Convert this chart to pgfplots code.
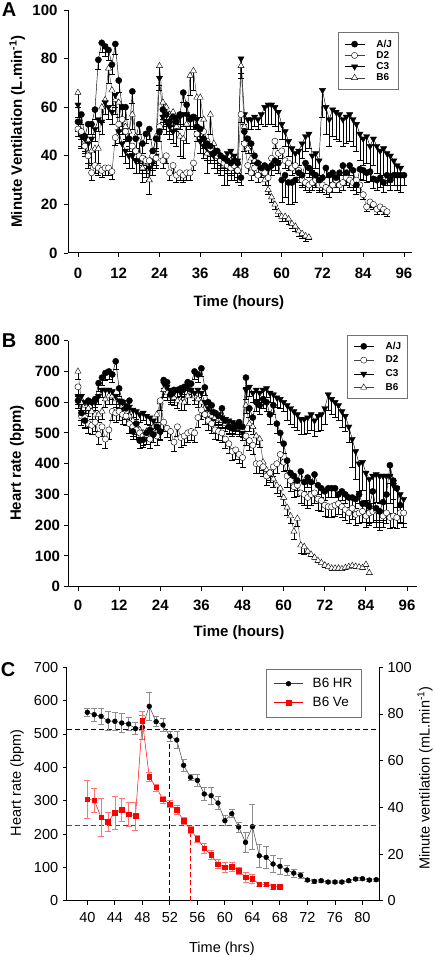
\documentclass[border=0pt]{standalone}
\usepackage{pgfplots}
\pgfplotsset{compat=1.18}
\usepackage{pgfplotstable}
\usepackage{fontspec}
\setmainfont{Liberation Sans}

\pgfplotstableread{
t aj aje d2 d2e c3 c3e b6 b6e
0 54 4 51 3 61 5 66 6
1 57 4 50 3 48 5 50 6
2 48 4 44 3 47 5 46 6
3 53 4 40 3 45 5 41 6
4 53 4 33 3 47 5 42 6
5 59 4 36 3 51 5 43 6
6 79.5 4 35 3 55 5 43 6
7 86.5 4 34 3 54 5 60 6
8 85 4 35 3 62 5 63 6
9 83.5 4 35 3 60 5 76 6
10 77.5 4 33.5 3 58 5 67 6
11 86 4 47.5 3 65 5 63 6
12 71 5 53 3 50 5 62 6
13 60 5 55 3 45 5 55 6
14 60 5 50 3 42 5 52 6
15 47 5 47 3 40 5 50 6
16 66.5 5 44 3 40 5 57 6
17 47 4 42 3 38 5 48 6
18 53 4 40 3 38 5 46 6
19 45 4 39 3 39 5 35 6
20 49 4 38 3 38 5 37 6
21 51 4 38 3 35 5 30 6
22 42 4 40 3 37 5 40 6
23 47 4 39 3 40 5 48 6
24 50 4 52 3 72 5 77 8
25 59 4 38 3 56 5 62 8
26 57 4 40 3 54 5 60 8
27 54 4 33 3 52 5 57 8
28 56 4 36 3 50 5 58 8
29 54 4 32 3 56 5 52 8
30 57 4 33 3 56 5 48 8
31 66 4 32 3 57 5 47 8
32 61 4 33 3 57 5 53 8
33 55 4 33 3 56 5 73 8
34 56 4 37 3 56 5 75 8
35 52 4 49 3 55 5 64 8
36 51 4 51 3 46 5 64 8
37 47 4 50 3 44 5 55 8
38 45 4 46 3 43 5 41 8
39 44 4 43 3 42 5 57 8
40 41 4 41 3 40 5 45 8
41 42 4 40 3 40 5 41 8
42 40 4 38 3 39 5 40 8
43 39 4 37 3 39 5 36 8
44 38 4 36 3 41 5 36 8
45 37 4 35 3 42 5 38 8
46 38 4 36 3 40 5 38 8
47 37 4 34 3 38 5 37 8
48 31 3 57 3 80 6 77 5
49 50 4 45 3 57 4 52 2
50 47 4 36 3 55 4 43 2
51 45 4 33 3 55 4 39 2
52 40 4 35 3 56 4 38 2
53 37 4 32 3 55 4 37 2
54 35 4 34 3 57 4 36 2
55 36 4 33 3 60 8 30 2
56 35 4 31 3 61 8 26 2
57 36 4 39 3 61 8 23 2
58 38 4 46 3 60 8 20 2
59 37 4 41 3 58 8 17 2
60 30 9 42 3 53 6 15 2
61 32 9 38 3 50 6 15 2
62 29 9 37 3 46 6 14 2
63 29 9 35 3 43 6 12 2
64 30 9 36 3 41 6 11 2
65 33 4 34 3 42 6 9 2
66 32 4 30 3 45 6 8 2
67 37 4 29 3 48 6 7 2
68 35 4 28 3 49 6 6.5 1
69 33 4 29 3 40 6 nan 0
70 32 4 30 3 41 6 nan 0
71 30 4 28 3 38 6 nan 0
72 31 4 28 3 67 11 nan 0
73 35 4 27 3 60 11 nan 0
74 32 4 26 3 55 11 nan 0
75 33 4 28 3 59 11 nan 0
76 31 4 30 3 58 11 nan 0
77 33 4 28 3 57 11 nan 0
78 36 4 29 3 55 11 nan 0
79 33 4 31 3 56 11 nan 0
80 36 4 30 3 57 11 nan 0
81 34 4 29 3 55 11 nan 0
82 28 4 30 3 53 11 nan 0
83 34.5 4 28 3 49 11 nan 0
84 34 4 24 2 47 11 nan 0
85 33 4 19 2 48 11 nan 0
86 33.5 4 21 2 44 11 nan 0
87 30.5 4 20 2 47 11 nan 0
88 30 4 18 2 44 11 nan 0
89 31 4 19 2 42 11 nan 0
90 29 4 18 2 43 11 nan 0
91 32 4 17 2 41 11 nan 0
92 30 4 nan 0 40 10 nan 0
93 32 4 nan 0 38 10 nan 0
94 32 4 nan 0 36 10 nan 0
95 32 4 nan 0 35 10 nan 0
96 32 4 nan 0 nan 0 nan 0
}\tabA

\pgfplotstableread{
t aj aje d2 d2e c3 c3e b6 b6e
0 605 25 650 30 620 25 700 25
1 565 25 555 30 620 25 600 25
2 540 25 550 30 600 25 590 25
3 605 25 530 30 600 25 580 25
4 600 25 525 30 600 25 570 25
5 610 25 535 30 600 25 560 25
6 662 25 495 30 620 25 560 25
7 680 25 520 30 640 25 570 25
8 695 25 480 30 640 25 610 25
9 700 25 510 30 640 25 620 25
10 690 25 570 30 635 25 620 25
11 733 25 565 30 620 25 610 25
12 645 25 570 30 605 25 600 25
13 600 25 560 30 600 25 590 25
14 580 25 555 30 590 25 570 25
15 605 25 530 30 585 25 555 25
16 505 25 520 30 575 25 540 25
17 530 25 510 30 570 25 520 25
18 475 25 500 30 560 25 510 25
19 478 25 490 30 565 25 500 25
20 500 25 495 30 555 25 505 25
21 510 25 480 30 550 25 510 25
22 495 25 500 30 540 25 520 25
23 520 25 490 30 520 25 560 25
24 505 25 605 30 500 25 600 25
25 672 25 535 30 660 25 640 25
26 665 25 515 30 650 25 630 25
27 625 25 505 30 640 25 620 25
28 640 25 470 30 630 25 615 25
29 640 25 520 30 640 25 605 25
30 645 25 485 30 630 25 600 25
31 650 25 490 30 640 25 600 25
32 665 25 500 30 650 25 620 25
33 660 25 505 30 640 25 640 25
34 700 25 500 30 630 25 620 25
35 690 25 550 30 640 25 610 25
36 710 25 575 30 630 25 600 25
37 648 25 560 30 600 25 580 25
38 600 25 540 30 580 25 560 25
39 590 25 530 30 570 25 555 25
40 565 25 510 30 565 25 550 25
41 555 25 505 30 560 25 545 25
42 580 25 500 30 550 25 540 25
43 540 25 480 30 545 25 530 25
44 520 25 465 30 540 25 525 25
45 515 25 440 30 535 25 525 25
46 520 25 445 30 530 25 520 25
47 535 25 430 30 520 25 515 25
48 520 25 420 30 500 25 510 25
49 680 30 490 30 640 30 590 25
50 580 30 475 30 650 30 530 25
51 550 30 460 30 630 30 520 25
52 600 30 400 30 640 30 490 25
53 590 30 400 30 630 30 480 25
54 610 30 390 30 640 30 405 25
55 600 30 360 30 645 30 380 25
56 560 30 370 30 630 30 370 25
57 590 30 390 30 625 30 350 25
58 530 30 400 30 615 30 330 25
59 500 30 430 30 610 30 320 25
60 465 30 405 30 600 30 290 25
61 410 30 360 35 590 50 258 25
62 370 30 345 35 580 50 230 25
63 360 30 325 35 570 50 180 25
64 345 30 330 35 560 50 222 25
65 375 30 305 35 545 50 135 25
66 340 30 300 35 545 50 130 25
67 355 30 290 35 550 50 115 5
68 340 30 300 35 560 50 105 5
69 365 30 305 35 540 50 95 5
70 330 30 285 35 555 50 85 5
71 320 30 280 35 560 50 78 5
72 310 30 265 35 580 50 70 5
73 320 30 260 35 625 50 65 5
74 320 30 260 35 610 50 60 5
75 320 30 265 35 600 50 60 5
76 300 30 270 35 590 50 60 5
77 310 30 260 35 570 50 58 5
78 300 30 250 35 555 50 62 5
79 290 30 240 35 520 50 65 5
80 290 30 255 35 480 90 68 5
81 285 30 235 35 440 90 66 5
82 300 30 240 35 400 90 64 5
83 270 30 245 35 405 90 62 5
84 270 60 230 35 370 90 72 5
85 260 60 240 35 350 90 45 5
86 310 60 245 35 360 90 nan 0
87 255 60 250 35 365 90 nan 0
88 245 60 245 35 360 90 nan 0
89 275 60 230 35 360 90 nan 0
90 300 60 240 35 360 90 nan 0
91 395 60 225 35 360 90 nan 0
92 345 60 230 35 330 90 nan 0
93 320 60 225 35 320 90 nan 0
94 265 60 240 35 300 90 nan 0
95 nan 0 240 35 285 90 nan 0
}\tabB

\pgfplotstableread{
t hr hre ve vee
40 565 12 43.4 8
41 558 20 43.1 5
42 553 25 35.7 8
43 539 28 33.9 4
44 538 28 37.7 7
45 533 28 39 5
46 530 20 37.1 5
47 516 18 36.3 6
48 520 35 77 4
49 583 42 53.1 2
50 537 15 48.6 1.5
51 527 20 43.4 1.5
52 493 15 41.4 1.5
53 482 25 38.9 2
54 406 18 34.3 1.5
55 370 10 30.3 1.5
56 361 18 26.6 1.5
57 320 20 22.4 2
58 315 25 19.6 2
59 293 20 15.7 2
60 240 15 14.3 2
61 261 12 14.6 2
62 221 15 12.9 1.5
63 175 30 10 2
64 222 68 9.4 2
65 135 35 7.1 1
66 130 33 7 1
67 110 25 6 1
68 103 25 6 1
69 92 15 nan 0
70 83 12 nan 0
71 76 8 nan 0
72 62 5 nan 0
73 58 5 nan 0
74 60 5 nan 0
75 56 5 nan 0
76 56 5 nan 0
77 56 5 nan 0
78 60 5 nan 0
79 65 5 nan 0
80 66 5 nan 0
81 62 5 nan 0
82 63 5 nan 0
}\tabC

\pgfplotsset{
  base/.style={
    scale only axis, anchor=south west,
    axis x line*=bottom, axis y line*=left,
    tick align=outside, major tick length=4pt,
    axis line style={line width=1pt, black},
    tick style={line width=0.9pt, black},
    /pgf/number format/assume math mode=true,
    clip=false,
  },
  boldaxis/.style={
    ticklabel style={font=\bfseries\fontsize{15}{15}\selectfont},
    label style={font=\bfseries\fontsize{15}{17}\selectfont},
    legend style={draw=black!55, font=\bfseries\fontsize{10}{10}\selectfont,
      anchor=north west, inner xsep=6pt, line width=0.6pt,
      nodes={inner sep=0.6pt}},
    legend cell align=left, reverse legend,
    legend image code/.code={\draw[mark repeat=2, mark phase=2, #1] plot coordinates {(0pt,0pt)(10pt,0pt)(20pt,0pt)};\path (31pt,0pt);},
  },
  ebar/.style={error bars/.cd, y dir=minus, y explicit,
    error bar style={line width=0.4pt, black},
    error mark options={rotate=90, mark size=3pt, line width=0.4pt, black}},
  sAJ/.style={black, line width=0.45pt, mark=*, mark size=3.1pt, mark options={fill=black, line width=0.4pt}},
  sD2/.style={black!75, line width=0.45pt, mark=*, mark size=3.1pt, mark options={fill=white, draw=black, line width=0.4pt}},
  sC3/.style={black, line width=0.45pt, mark=triangle*, mark size=3.6pt, mark options={rotate=180, fill=black, line width=0.4pt}},
  sB6/.style={black!75, line width=0.45pt, mark=triangle*, mark size=3.6pt, mark options={fill=white, draw=black, line width=0.4pt}},
}

\begin{document}
\begin{tikzpicture}
\path[use as bounding box] (0pt,0pt) rectangle (434pt,958pt);

% ---------------- Panel A ----------------
\begin{axis}[base, boldaxis,
  at={(68pt,705pt)}, width=344pt, height=243pt,
  xmin=-2.94, xmax=98.36, ymin=0, ymax=100,
  xtick={0,12,...,96}, ytick={0,20,...,100},
  xticklabel style={yshift=-8pt},
  yticklabel style={xshift=-3pt},
  xlabel={Time (hours)},
  ylabel={Minute Ventilation (L.min\textsuperscript{-1})},
  xlabel style={at={(axis description cs:0.497,-0.203)}, anchor=center},
  ylabel style={at={(axis description cs:-0.148,0.5)}, anchor=center},
  legend style={at={(0.785,0.91)}, inner ysep=7pt, row sep=1.5pt},
]
\addplot[sB6, ebar] table[x=t, y=b6, y error=b6e] {\tabA};
\addplot[sC3, ebar] table[x=t, y=c3, y error=c3e] {\tabA};
\addplot[sD2, ebar] table[x=t, y=d2, y error=d2e] {\tabA};
\addplot[sAJ, ebar] table[x=t, y=aj, y error=aje] {\tabA};
\legend{B6, C3, D2, A/J}
\end{axis}

% ---------------- Panel B ----------------
\begin{axis}[base, boldaxis,
  at={(68pt,371.3pt)}, width=349pt, height=246pt,
  xmin=-2.92, xmax=98.9, ymin=0, ymax=800,
  xtick={0,12,...,96}, ytick={0,100,...,800},
  xticklabel style={yshift=-6pt},
  yticklabel style={xshift=-0.5pt},
  xlabel={Time (hours)},
  ylabel={Heart rate (bpm)},
  xlabel style={at={(axis description cs:0.49,-0.186)}, anchor=center},
  ylabel style={at={(axis description cs:-0.146,0.503)}, anchor=center},
  legend style={at={(0.80,1.023)}, inner ysep=6pt, row sep=4pt},
]
\addplot[sB6, ebar] table[x=t, y=b6, y error=b6e] {\tabB};
\addplot[sC3, ebar] table[x=t, y=c3, y error=c3e] {\tabB};
\addplot[sD2, ebar] table[x=t, y=d2, y error=d2e] {\tabB};
\addplot[sAJ, ebar] table[x=t, y=aj, y error=aje] {\tabB};
\legend{B6, C3, D2, A/J}
\end{axis}

% ---------------- Panel C ----------------
\begin{axis}[base,
  at={(66.7pt,57.3pt)}, width=312.3pt, height=233.4pt,
  xmin=37, xmax=82.4, ymin=0, ymax=700,
  xtick={40,44,...,80}, ytick={0,100,...,700},
  ticklabel style={font=\fontsize{14.5}{14.5}\selectfont},
  xticklabel style={yshift=-4pt},
  yticklabel style={xshift=-1pt},
  label style={font=\fontsize{14.5}{16}\selectfont},
  xlabel={Time (hrs)},
  ylabel={Heart rate (bpm)},
  xlabel style={at={(axis description cs:0.497,-0.207)}, anchor=center},
  ylabel style={at={(axis description cs:-0.159,0.504)}, anchor=center},
  legend style={at={(0.638,0.993)}, anchor=north west, draw=black!55,
    font=\fontsize{13.5}{13.5}\selectfont, inner xsep=8pt, inner ysep=8pt, row sep=6pt, line width=0.6pt,
    nodes={inner sep=1pt}},
  legend cell align=left,
  legend image code/.code={\draw[mark repeat=2, mark phase=2, #1] plot coordinates {(0pt,0pt)(14pt,0pt)(28pt,0pt)};\path (37pt,0pt);},
]
\addplot[black, line width=0.9pt, dash pattern=on 5pt off 3pt, forget plot] coordinates {(37,514) (82.4,514)};
\addplot[black, line width=0.9pt, dash pattern=on 5pt off 3pt, forget plot] coordinates {(52,0) (52,470)};
\addplot[black!75, line width=0.5pt, mark=*, mark size=2.4pt, mark options={fill=black, draw=black},
  error bars/.cd, y dir=both, y explicit,
  error bar style={line width=0.5pt, black!45},
  error mark options={rotate=90, mark size=3pt, line width=0.5pt, black!45}]
  table[x=t, y=hr, y error=hre] {\tabC};
\addlegendentry{B6 HR}
\addlegendimage{red, line width=0.5pt, mark=square*, mark size=2.3pt, mark options={fill=red}}
\addlegendentry{B6 Ve}
\end{axis}

\begin{axis}[
  scale only axis, anchor=south west,
  at={(66.7pt,57.3pt)}, width=312.3pt, height=233.4pt,
  xmin=37, xmax=82.4, ymin=0, ymax=100,
  axis x line=none, axis y line*=right,
  tick align=outside, major tick length=4pt,
  axis line style={line width=1pt, black},
  tick style={line width=0.9pt, black},
  /pgf/number format/assume math mode=true,
  clip=false,
  ytick={0,20,...,100},
  ticklabel style={font=\fontsize{14.5}{14.5}\selectfont},
  yticklabel style={xshift=1pt},
  ylabel={Minute ventilation (mL.min\textsuperscript{-1})},
  ylabel style={font=\fontsize{14.5}{16}\selectfont, at={(axis description cs:1.147,0.525)}, anchor=center},
]
\addplot[red, line width=0.9pt, dash pattern=on 5pt off 3pt] coordinates {(37,32.4) (82.4,32.4)};
\addplot[red, line width=0.9pt, dash pattern=on 5pt off 3pt] coordinates {(55,0) (55,30.3)};
\addplot[red, line width=0.5pt, mark=square*, mark size=2.3pt, mark options={fill=red, draw=red},
  error bars/.cd, y dir=both, y explicit,
  error bar style={line width=0.5pt, red!55},
  error mark options={rotate=90, mark size=3pt, line width=0.5pt, red!55}]
  table[x=t, y=ve, y error=vee] {\tabC};
\end{axis}

\node[font=\bfseries\fontsize{20}{20}\selectfont] at (9pt,948pt) {A};
\node[font=\bfseries\fontsize{20}{20}\selectfont] at (9pt,617pt) {B};
\node[font=\bfseries\fontsize{20}{20}\selectfont] at (8pt,288pt) {C};
\end{tikzpicture}
\end{document}
